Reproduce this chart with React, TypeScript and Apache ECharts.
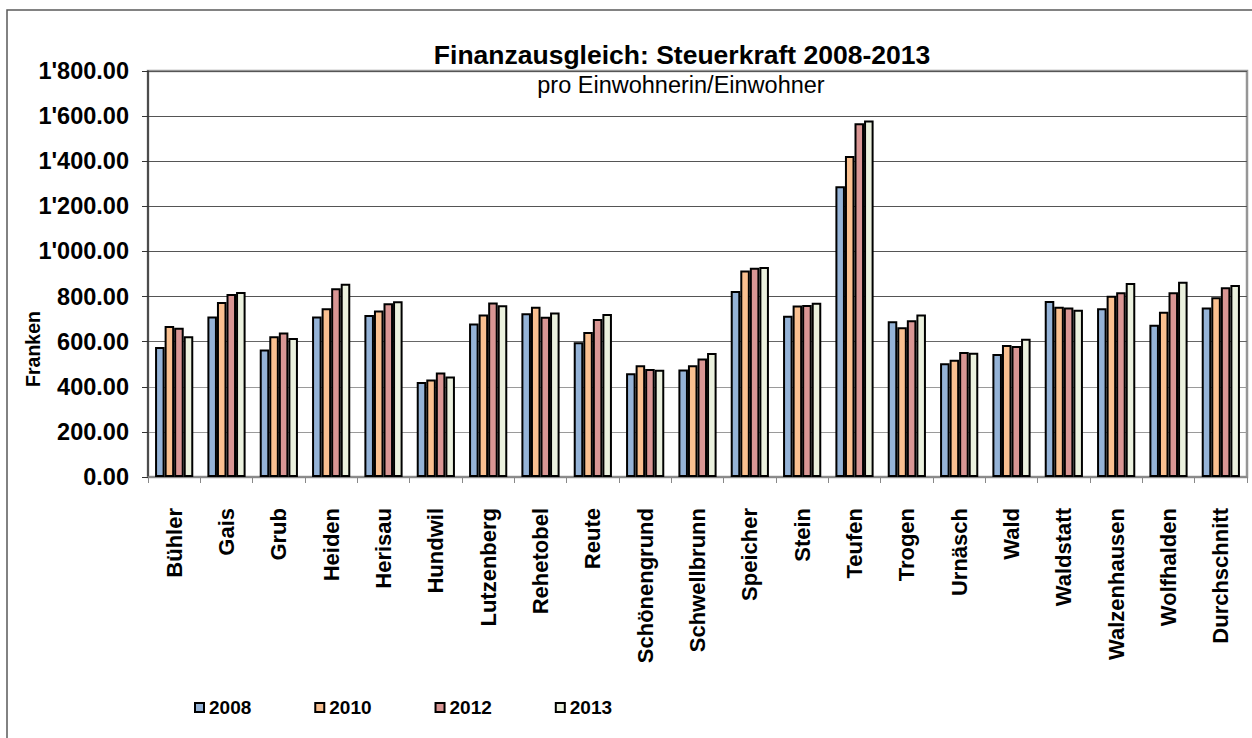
import React, { useEffect, useRef } from "react";
import * as echarts from "echarts";

const categories = [
  "Bühler", "Gais", "Grub", "Heiden", "Herisau", "Hundwil", "Lutzenberg",
  "Rehetobel", "Reute", "Schönengrund", "Schwellbrunn", "Speicher", "Stein",
  "Teufen", "Trogen", "Urnäsch", "Wald", "Waldstatt", "Walzenhausen",
  "Wolfhalden", "Durchschnitt",
];

const years = ["2008", "2010", "2012", "2013"];

const values2008 = [576, 712, 565, 712, 718, 421, 681, 726, 597, 460, 477, 825, 715, 1289, 690, 504, 545, 780, 748, 675, 752];
const values2010 = [670, 776, 624, 748, 738, 432, 720, 755, 643, 495, 495, 915, 760, 1423, 664, 520, 585, 755, 804, 733, 797];
const values2012 = [662, 811, 641, 837, 770, 463, 774, 711, 700, 479, 525, 928, 763, 1568, 695, 554, 581, 752, 819, 819, 841];
const values2013 = [624, 820, 616, 857, 779, 446, 761, 729, 723, 476, 550, 931, 772, 1581, 720, 551, 613, 742, 860, 866, 851];

const seriesValues = [values2008, values2010, values2012, values2013];
const seriesColors = ["#95B3D7", "#FAC090", "#D99694", "#EBF1DE"];

const titleText = "Finanzausgleich: Steuerkraft 2008-2013";
const subtitleText = "pro Einwohnerin/Einwohner";
const yAxisName = "Franken";

const FONT = '"Liberation Sans", Arial, sans-serif';

function formatSwiss(v: number): string {
  const fixed = v.toFixed(2);
  const [intPart, dec] = fixed.split(".");
  const withSep = intPart.replace(/\B(?=(\d{3})+(?!\d))/g, "'");
  return withSep + "." + dec;
}

export default function App() {
  const ref = useRef<HTMLDivElement>(null);

  useEffect(() => {
    document.body.style.margin = "0";
    if (!ref.current) return;
    const chart = echarts.init(ref.current, undefined, { renderer: "svg" });

    const option: any = {
      animation: false,
      backgroundColor: "#ffffff",
      textStyle: { fontFamily: FONT },
      grid: {
        left: 148,
        right: 5,
        top: 71,
        bottom: 261,
        show: true,
        borderColor: "#969696",
        borderWidth: 2.5,
        backgroundColor: "transparent",
      },
      legend: {
        data: years,
        left: 189,
        top: 693,
        itemWidth: 9,
        itemHeight: 9,
        itemGap: 63,
        icon: "rect",
        textStyle: { fontFamily: FONT, fontSize: 19, fontWeight: "bold", color: "#000" },
        itemStyle: { borderColor: "#000", borderWidth: 2 },
      },
      xAxis: {
        type: "category",
        data: categories,
        axisLine: { show: true, lineStyle: { color: "#888888", width: 1.5 } },
        axisTick: { show: true, length: 6, alignWithLabel: false, lineStyle: { color: "#888888" } },
        axisLabel: {
          interval: 0,
          rotate: 90,
          margin: 31,
          fontFamily: FONT,
          fontSize: 22,
          fontWeight: "bold",
          color: "#000",
        },
        splitLine: { show: false },
      },
      yAxis: {
        type: "value",
        min: 0,
        max: 1800,
        interval: 200,
        axisLine: { show: true, lineStyle: { color: "#333333", width: 1.5 } },
        axisTick: { show: true, length: 6, lineStyle: { color: "#333333" } },
        axisLabel: {
          margin: 19,
          fontFamily: FONT,
          fontSize: 23.5,
          fontWeight: "bold",
          color: "#000",
          formatter: (v: number) => formatSwiss(v),
        },
        splitLine: {
          show: true,
          lineStyle: {
            color: ["#888888", "#9a9a9a", "#9a9a9a", "#666666", "#555555", "#555555", "#555555", "#555555", "#555555", "#555555"],
            width: 1.2,
          },
        },
      },
      series: years.map((y, i) => ({
        name: y,
        type: "bar",
        data: seriesValues[i],
        barGap: "0%",
        barCategoryGap: "27%",
        itemStyle: {
          color: seriesColors[i],
          borderColor: "#000",
          borderWidth: 2,
        },
      })),
      graphic: [
        {
          type: "rect",
          silent: true,
          z: -10,
          shape: { x: 7, y: 10, width: 1400, height: 900 },
          style: { fill: "none", stroke: "#595959", lineWidth: 1.5 },
        },
        {
          type: "text",
          x: 682,
          y: 55,
          style: {
            text: titleText,
            fontFamily: FONT,
            fontSize: 26.5,
            fontWeight: "bold",
            fill: "#000",
            textAlign: "center",
            textVerticalAlign: "middle",
          },
        },
        {
          type: "text",
          x: 681,
          y: 85,
          style: {
            text: subtitleText,
            fontFamily: FONT,
            fontSize: 23.5,
            fill: "#000",
            textAlign: "center",
            textVerticalAlign: "middle",
          },
        },
        {
          type: "text",
          x: 33,
          y: 349,
          rotation: Math.PI / 2,
          style: {
            text: yAxisName,
            fontFamily: FONT,
            fontSize: 19.5,
            fontWeight: "bold",
            fill: "#000",
            textAlign: "center",
            textVerticalAlign: "middle",
          },
        },
      ],
    };

    chart.setOption(option);
    return () => {
      chart.dispose();
    };
  }, []);

  return <div ref={ref} style={{ width: 1252, height: 738 }} />;
}
